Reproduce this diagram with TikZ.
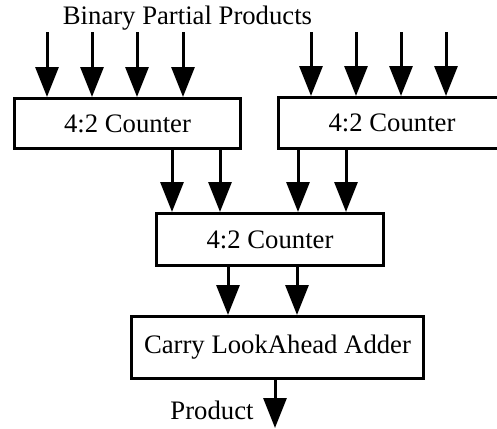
\documentclass[tikz,border=0pt]{standalone}
\usepackage{fontspec}
\setmainfont{Liberation Serif}
\usetikzlibrary{arrows.meta}
\begin{document}
\begin{tikzpicture}[x=0.5pt,y=-0.5pt,
  box/.style={draw, line width=1.5pt, inner sep=0pt, font=\fontsize{13.35}{16}\selectfont},
  lbl/.style={inner sep=0pt, font=\fontsize{13.35}{16}\selectfont},
  arr/.style={line width=1.5pt, -{Triangle[width=11.5pt,length=15pt]}}]
\useasboundingbox (0,0) rectangle (497,428);
\clip (0,0) rectangle (497,428);
% boxes
\node[box, minimum width=113pt, minimum height=25pt] (c1) at (127.5,123.5) {4:2 Counter};
\node[box, minimum width=113.5pt, minimum height=25.5pt] (c2) at (392,123) {4:2 Counter};
\node[box, minimum width=113.5pt, minimum height=26pt] (c3) at (270,239.5) {4:2 Counter};
\node[box, minimum width=146pt, minimum height=31pt] (cla) at (277.5,347.5) {Carry LookAhead Adder};
% labels
\node[lbl] (title) at (187.5,18) {Binary Partial Products};
\node[lbl] (prod) at (212,410) {Product};
% inputs
\foreach \x [count=\i] in {47,92,137,183} {
  \coordinate (a\i) at (\x,32);
  \draw[arr] (a\i) -- (a\i |- c1.north);
}
\foreach \x [count=\i] in {311,356,401,446} {
  \coordinate (b\i) at (\x,32);
  \draw[arr] (b\i) -- (b\i |- c2.north);
}
% to middle counter
\coordinate (m1) at (172,0);
\coordinate (m2) at (220,0);
\coordinate (m3) at (298,0);
\coordinate (m4) at (346,0);
\draw[arr] (m1 |- c1.south) -- (m1 |- c3.north);
\draw[arr] (m2 |- c1.south) -- (m2 |- c3.north);
\draw[arr] (m3 |- c2.south) -- (m3 |- c3.north);
\draw[arr] (m4 |- c2.south) -- (m4 |- c3.north);
% to adder
\coordinate (n1) at (228,0);
\coordinate (n2) at (297,0);
\draw[arr] (n1 |- c3.south) -- (n1 |- cla.north);
\draw[arr] (n2 |- c3.south) -- (n2 |- cla.north);
% output
\coordinate (out) at (275,428);
\draw[arr] (out |- cla.south) -- (out);
\end{tikzpicture}
\end{document}
